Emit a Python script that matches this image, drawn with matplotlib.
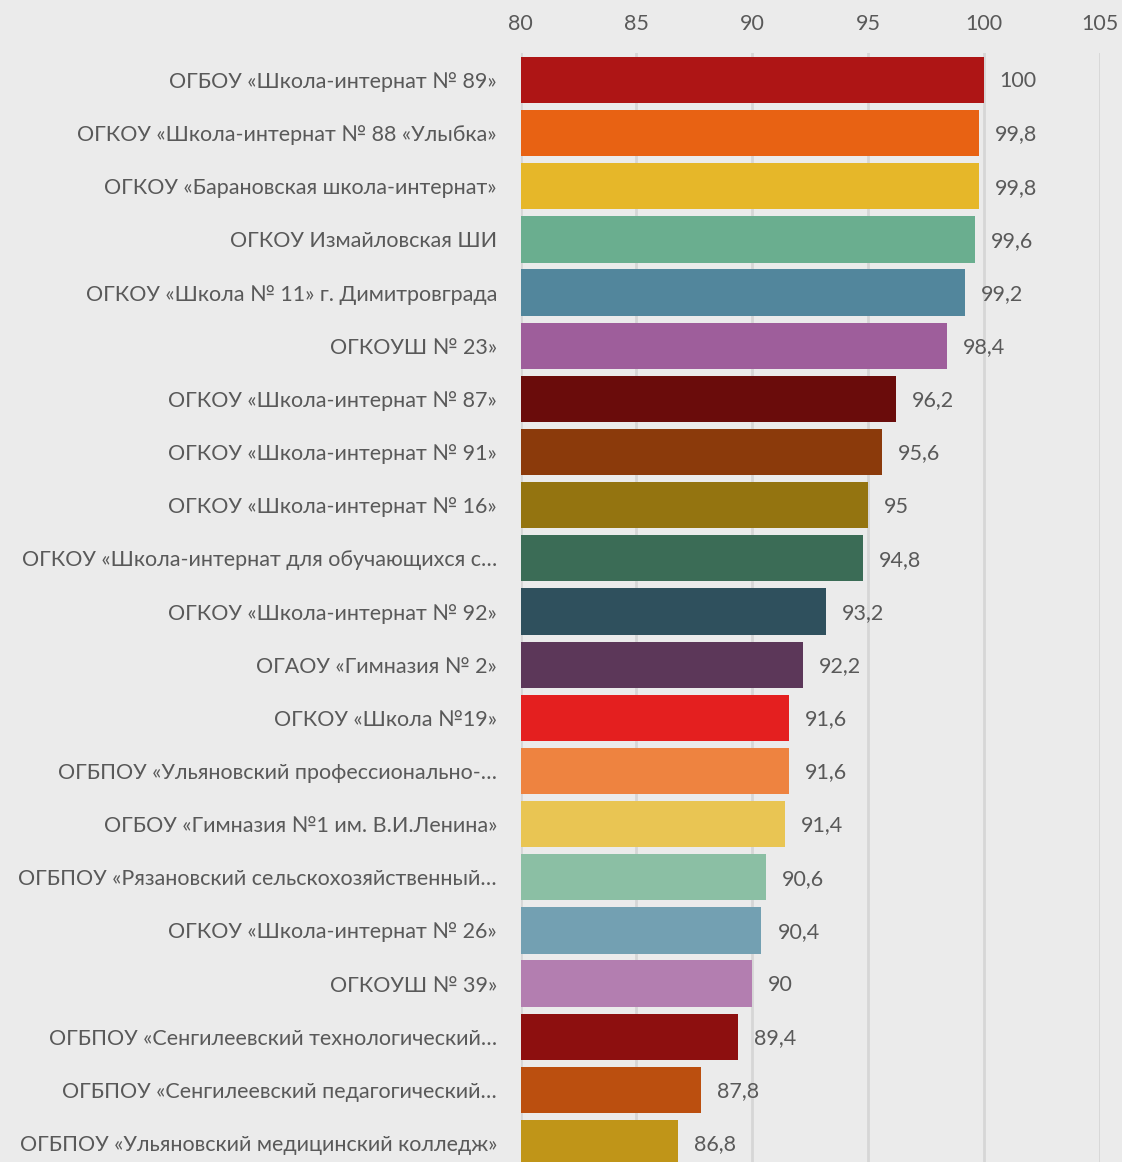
import matplotlib.pyplot as plt

plt.rcParams['font.family'] = ['Lato', 'Open Sans', 'DejaVu Sans']

schools = [
    "ОГБОУ «Школа-интернат № 89»",
    "ОГКОУ «Школа-интернат № 88 «Улыбка»",
    "ОГКОУ «Барановская школа-интернат»",
    "ОГКОУ Измайловская ШИ",
    "ОГКОУ «Школа № 11» г. Димитровграда",
    "ОГКОУШ № 23»",
    "ОГКОУ «Школа-интернат № 87»",
    "ОГКОУ «Школа-интернат № 91»",
    "ОГКОУ «Школа-интернат № 16»",
    "ОГКОУ «Школа-интернат для обучающихся с…",
    "ОГКОУ «Школа-интернат № 92»",
    "ОГАОУ «Гимназия № 2»",
    "ОГКОУ «Школа №19»",
    "ОГБПОУ «Ульяновский профессионально-…",
    "ОГБОУ «Гимназия №1 им. В.И.Ленина»",
    "ОГБПОУ «Рязановский сельскохозяйственный…",
    "ОГКОУ «Школа-интернат № 26»",
    "ОГКОУШ № 39»",
    "ОГБПОУ «Сенгилеевский технологический…",
    "ОГБПОУ «Сенгилеевский педагогический…",
    "ОГБПОУ «Ульяновский медицинский колледж»",
]
scores = [100, 99.8, 99.8, 99.6, 99.2, 98.4, 96.2, 95.6, 95, 94.8, 93.2,
          92.2, 91.6, 91.6, 91.4, 90.6, 90.4, 90, 89.4, 87.8, 86.8]
colors = ["#AE1515", "#E86213", "#E6B729", "#6AAE8F", "#52869C", "#9E5E9B",
          "#6A0C0B", "#8B3A0B", "#947410", "#3B6C56", "#2F505D", "#5C3759",
          "#E41F1F", "#EE8340", "#E9C553", "#8BBFA4", "#73A0B2", "#B37EB0",
          "#8D0F0F", "#BB4F0F", "#C09518"]

BG = "#EBEBEB"
TXT = "#595959"

fig = plt.figure(figsize=(11.22, 11.62), dpi=100, facecolor=BG)
ax = fig.add_axes([0.464, -0.0065, 0.516, 0.9605], facecolor=BG)

y = list(range(len(schools)))
ax.barh(y, [s - 80 for s in scores], left=80, height=0.87, color=colors, zorder=3)

ax.set_xlim(80, 105)
ax.set_ylim(len(schools) - 0.5, -0.5)
ax.set_xticks([80, 85, 90, 95, 100, 105])
ax.xaxis.tick_top()
ax.tick_params(axis='x', length=0, pad=14, labelsize=15.5, labelcolor=TXT)
ax.set_yticks(y)
ax.set_yticklabels(schools)
ax.tick_params(axis='y', length=0, pad=17, labelsize=15.5, labelcolor=TXT)
ax.grid(axis='x', color="#D6D6D6", lw=2, zorder=0)
for sp in ax.spines.values():
    sp.set_visible(False)

for yi, s in zip(y, scores):
    lbl = f"{s:g}".replace('.', ',')
    ax.annotate(lbl, (s, yi), xytext=(11.5, -1), textcoords='offset points',
                va='center', ha='left', fontsize=15.5, color=TXT)

fig.savefig("out.png", dpi=100, facecolor=BG)
